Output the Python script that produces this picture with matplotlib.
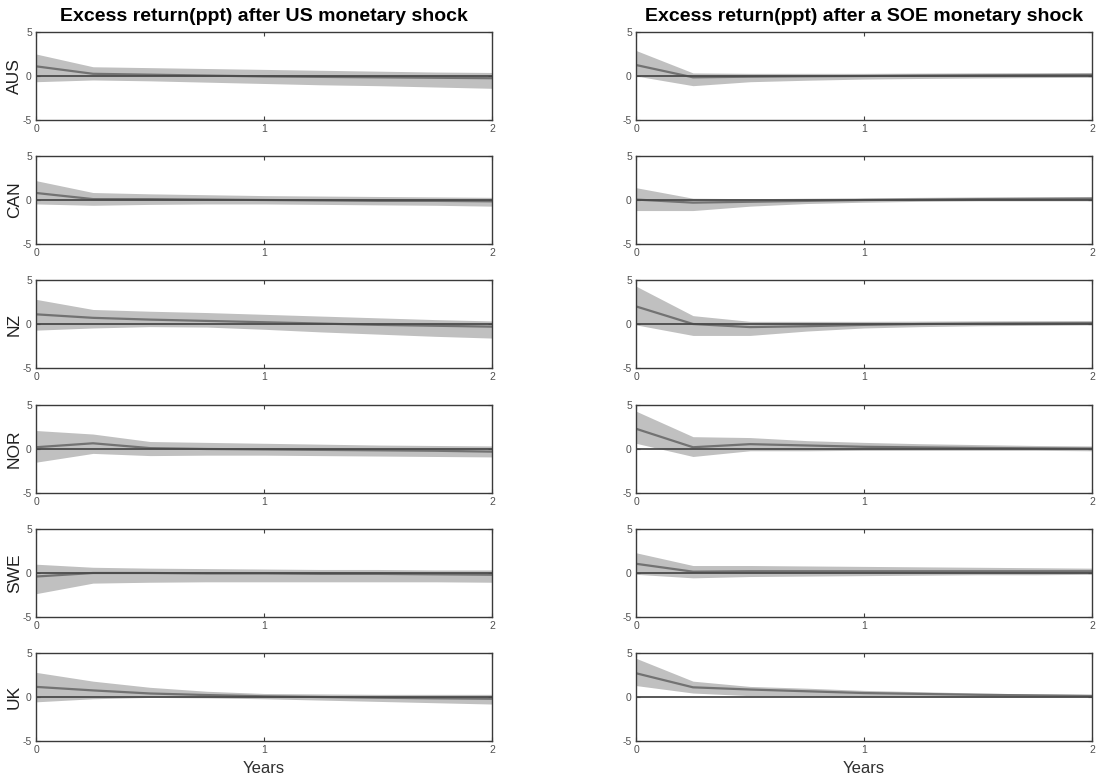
import numpy as np
import matplotlib
matplotlib.use("Agg")
import matplotlib.pyplot as plt

plt.rcParams['font.family'] = ['Liberation Sans', 'DejaVu Sans']
plt.rcParams['axes.unicode_minus'] = False

# quarterly horizon, in years
years = [0, 0.25, 0.5, 0.75, 1.0, 1.25, 1.5, 1.75, 2.0]
countries = ["AUS", "CAN", "NZ", "NOR", "SWE", "UK"]

# response to US monetary shock: median, lower and upper band
us_mid = {
    "AUS": [1.1, 0.25, 0.15, 0.05, -0.05, -0.1, -0.15, -0.2, -0.25],
    "CAN": [0.8, 0.1, 0.1, 0.05, 0.0, -0.05, -0.1, -0.1, -0.15],
    "NZ":  [1.1, 0.7, 0.5, 0.35, 0.2, 0.05, -0.1, -0.2, -0.3],
    "NOR": [0.2, 0.65, 0.1, 0.0, -0.05, -0.1, -0.15, -0.2, -0.3],
    "SWE": [-0.4, 0.0, 0.0, -0.05, -0.05, -0.1, -0.1, -0.15, -0.2],
    "UK":  [1.15, 0.75, 0.4, 0.22, 0.08, 0.0, -0.08, -0.15, -0.2],
}
us_lo = {
    "AUS": [-0.65, -0.45, -0.55, -0.7, -0.85, -1.0, -1.1, -1.25, -1.4],
    "CAN": [-0.45, -0.6, -0.5, -0.45, -0.45, -0.5, -0.55, -0.6, -0.7],
    "NZ":  [-0.7, -0.45, -0.3, -0.35, -0.6, -0.9, -1.15, -1.4, -1.6],
    "NOR": [-1.5, -0.5, -0.75, -0.7, -0.7, -0.75, -0.8, -0.85, -0.9],
    "SWE": [-2.35, -1.15, -1.05, -1.0, -1.0, -1.0, -1.0, -1.0, -1.05],
    "UK":  [-0.55, -0.2, -0.05, -0.1, -0.2, -0.35, -0.5, -0.65, -0.8],
}
us_hi = {
    "AUS": [2.5, 1.05, 0.95, 0.85, 0.75, 0.65, 0.55, 0.45, 0.4],
    "CAN": [2.2, 0.85, 0.7, 0.6, 0.5, 0.45, 0.4, 0.35, 0.3],
    "NZ":  [2.8, 1.65, 1.45, 1.3, 1.1, 0.9, 0.7, 0.5, 0.35],
    "NOR": [2.1, 1.7, 0.85, 0.75, 0.65, 0.55, 0.45, 0.4, 0.35],
    "SWE": [1.0, 0.65, 0.55, 0.5, 0.45, 0.4, 0.4, 0.35, 0.35],
    "UK":  [2.8, 1.8, 1.1, 0.65, 0.4, 0.35, 0.3, 0.3, 0.3],
}

# response to own (SOE) monetary shock
soe_mid = {
    "AUS": [1.25, -0.15, -0.08, -0.03, 0.0, 0.05, 0.08, 0.1, 0.12],
    "CAN": [0.05, -0.3, -0.2, -0.1, 0.0, 0.05, 0.1, 0.12, 0.15],
    "NZ":  [2.0, 0.0, -0.35, -0.25, -0.1, 0.0, 0.05, 0.08, 0.1],
    "NOR": [2.3, 0.2, 0.55, 0.4, 0.25, 0.18, 0.12, 0.08, 0.05],
    "SWE": [1.05, 0.15, 0.2, 0.2, 0.2, 0.2, 0.2, 0.2, 0.2],
    "UK":  [2.7, 1.1, 0.85, 0.65, 0.45, 0.35, 0.25, 0.18, 0.12],
}
soe_lo = {
    "AUS": [0.0, -1.1, -0.65, -0.48, -0.35, -0.28, -0.22, -0.18, -0.15],
    "CAN": [-1.2, -1.2, -0.7, -0.4, -0.25, -0.15, -0.1, -0.1, -0.1],
    "NZ":  [-0.1, -1.3, -1.3, -0.8, -0.45, -0.3, -0.2, -0.15, -0.1],
    "NOR": [0.65, -0.85, -0.2, -0.2, -0.15, -0.15, -0.15, -0.15, -0.2],
    "SWE": [-0.15, -0.55, -0.4, -0.35, -0.3, -0.25, -0.2, -0.2, -0.15],
    "UK":  [1.3, 0.45, 0.15, 0.08, 0.0, 0.0, 0.0, 0.0, 0.0],
}
soe_hi = {
    "AUS": [2.9, 0.35, 0.3, 0.3, 0.3, 0.33, 0.36, 0.38, 0.4],
    "CAN": [1.4, 0.2, 0.15, 0.2, 0.25, 0.3, 0.35, 0.38, 0.4],
    "NZ":  [4.3, 0.95, 0.3, 0.3, 0.3, 0.33, 0.36, 0.38, 0.4],
    "NOR": [4.3, 1.4, 1.3, 0.95, 0.75, 0.6, 0.5, 0.4, 0.35],
    "SWE": [2.3, 0.85, 0.85, 0.8, 0.75, 0.7, 0.65, 0.6, 0.55],
    "UK":  [4.4, 1.8, 1.2, 1.0, 0.75, 0.6, 0.45, 0.35, 0.3],
}

titles = ["Excess return(ppt) after US monetary shock",
          "Excess return(ppt) after a SOE monetary shock"]

W, H = 1099, 781
fig = plt.figure(figsize=(W/100, H/100), dpi=100)

col_x = [(36, 492), (636, 1092)]
row_top = [32, 156, 280, 405, 529, 653]
ax_h = 88

panels = [(us_mid, us_lo, us_hi), (soe_mid, soe_lo, soe_hi)]

for c, (x0, x1) in enumerate(col_x):
    mid, lo, hi = panels[c]
    for r, ctry in enumerate(countries):
        top = row_top[r]
        ax = fig.add_axes([x0/W, 1-(top+ax_h)/H, (x1-x0)/W, ax_h/H])
        ax.fill_between(years, lo[ctry], hi[ctry], color="#c0c0c0", lw=0)
        ax.plot(years, mid[ctry], color="#727272", lw=1.6)
        ax.axhline(0, color="#4a4a4a", lw=1.3)
        ax.set_xlim(0, 2)
        ax.set_ylim(-5, 5)
        ax.set_xticks([0, 1, 2])
        ax.set_yticks([-5, 0, 5])
        ax.tick_params(direction="in", length=3, width=0.8, top=True, right=True,
                       labelsize=7.5, labelcolor="#505050", color="#404040", pad=3)
        for s in ax.spines.values():
            s.set_color("#3a3a3a")
            s.set_linewidth(1.0)
        if c == 0:
            ax.set_ylabel(ctry, fontsize=12.5, color="#202020")
            ax.yaxis.set_label_coords(-0.031, 0.5)
        if r == 0:
            ax.set_title(titles[c], fontsize=14, fontweight="bold", pad=8)
        if r == len(countries) - 1:
            ax.set_xlabel("Years", fontsize=12, color="#303030")
            ax.xaxis.set_label_coords(0.5, -0.23)

fig.savefig("out.png", dpi=100)
